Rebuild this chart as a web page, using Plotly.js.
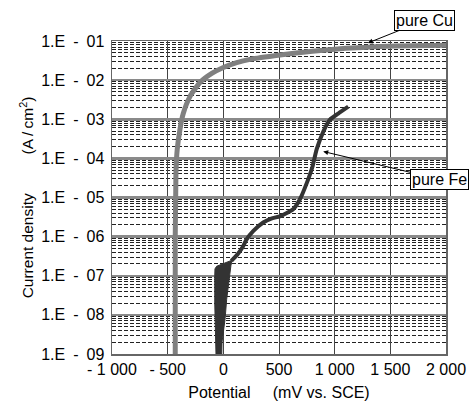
<!DOCTYPE html>
<html>
<head>
<meta charset="utf-8">
<script src="https://cdn.plot.ly/plotly-3.0.1.min.js"></script>
<style>html,body{margin:0;padding:0;background:#fff;}#chart{width:473px;height:404px;}</style>
</head>
<body>
<div id="chart"></div>
<script>
// Pure Cu polarization curve (mV vs SCE, A/cm2)
const cuPotential = [-432, -432, -428, -425, -414, -390, -360, -300, -210, -100, 0, 120, 240, 508, 800, 1100, 1400, 1700, 2000];
const cuCurrent   = [1e-9, 1e-6, 1e-5, 5e-5, 1.7e-4, 5.4e-4, 1.4e-3, 3.8e-3, 8.7e-3, 1.5e-2, 2.1e-2, 2.8e-2, 3.4e-2, 4.4e-2, 5.5e-2, 6.5e-2, 7.2e-2, 7.6e-2, 7.8e-2];

// Pure Fe: noisy band near the corrosion potential (outline)
const feBandPotential = [-66, -70, -75, -77, -77, -75, -60, -30, 10, 50, 78, 68, 56, 42, 30, 16, 2, -12, -14, -66];
const feBandCurrent   = [1e-9, 2e-9, 5e-9, 2e-8, 1e-7, 1.5e-7, 1.75e-7, 1.9e-7, 2.1e-7, 2.3e-7, 2.5e-7, 1.8e-7, 1e-7, 6e-8, 2.5e-8, 8e-9, 4e-9, 2e-9, 1e-9, 1e-9];

// Pure Fe: anodic branch
const fePotential = [72, 130, 178, 209, 270, 358, 430, 508, 570, 627, 688, 762, 800, 838, 900, 958, 1032, 1122];
const feCurrent   = [2.4e-7, 3.6e-7, 5.7e-7, 8.5e-7, 1.4e-6, 2.3e-6, 2.9e-6, 3.3e-6, 4e-6, 5e-6, 9e-6, 2.9e-5, 6e-5, 1.7e-4, 5e-4, 9.8e-4, 1.4e-3, 2.1e-3];

const xTickVals = [-1000, -500, 0, 500, 1000, 1500, 2000];
const xTickText = ['- 1 000', '- 500', '0', '500', '1 000', '1 500', '2 000'];
const yTickVals = [1e-9, 1e-8, 1e-7, 1e-6, 1e-5, 1e-4, 1e-3, 1e-2, 1e-1];
const yTickText = ['1.E\u2002-\u200209', '1.E\u2002-\u200208', '1.E\u2002-\u200207', '1.E\u2002-\u200206', '1.E\u2002-\u200205', '1.E\u2002-\u200204', '1.E\u2002-\u200203', '1.E\u2002-\u200202', '1.E\u2002-\u200201'];

// Label callouts: arrow head point and label centre (potential, current)
const cuLabel = {text: 'pure Cu', head: [1298, 8.9e-2], tail: [1811, 3.4e-1]};
const feLabel = {text: 'pure Fe', head: [897, 1.5e-4], tail: [1946, 2.9e-5]};

const FONT = 'Liberation Sans, Arial, sans-serif';
const NB = '\u00A0';

const traces = [
  {x: cuPotential, y: cuCurrent, type: 'scatter', mode: 'lines',
   line: {color: '#808080', width: 5, shape: 'spline', smoothing: 0.5}, hoverinfo: 'skip'},
  {x: feBandPotential, y: feBandCurrent, type: 'scatter', mode: 'lines', fill: 'toself',
   fillcolor: '#333333', line: {color: '#333333', width: 1}, hoverinfo: 'skip'},
  {x: fePotential, y: feCurrent, type: 'scatter', mode: 'lines',
   line: {color: '#333333', width: 4, shape: 'spline', smoothing: 0.5}, hoverinfo: 'skip'}
];

function callout(c) {
  return {x: c.head[0], y: Math.log10(c.head[1]), xref: 'x', yref: 'y',
    ax: c.tail[0], ay: Math.log10(c.tail[1]), axref: 'x', ayref: 'y',
    text: c.text, showarrow: true, arrowhead: 2, arrowsize: 1, arrowwidth: 1, arrowcolor: '#000',
    xanchor: 'center', yanchor: 'middle',
    bordercolor: '#000', borderwidth: 1, borderpad: 1, bgcolor: '#fff',
    font: {family: FONT, size: 16, color: '#000'}};
}

const layout = {
  width: 473, height: 404,
  margin: {l: 112, r: 27, t: 41, b: 50},
  paper_bgcolor: '#fff', plot_bgcolor: '#fff',
  showlegend: false,
  font: {family: FONT, size: 16, color: '#000'},
  xaxis: {
    range: [-1000, 2000], tickvals: xTickVals, ticktext: xTickText,
    showgrid: true, gridcolor: '#444', gridwidth: 1,
    zeroline: false, showline: true, linecolor: '#666', linewidth: 1.5, mirror: true,
    ticks: '', tickfont: {family: FONT, size: 16},
    title: {text: 'Potential' + NB.repeat(5) + '(mV vs. SCE)', font: {family: FONT, size: 16}, standoff: 10}
  },
  yaxis: {
    type: 'log', range: [-9, -1], tickvals: yTickVals, ticktext: yTickText,
    showgrid: true, gridcolor: '#8a8a8a', gridwidth: 2.5,
    minor: {dtick: 'D1', showgrid: true, gridcolor: '#222', gridwidth: 1, griddash: '4px,2px', ticks: ''},
    zeroline: false, showline: true, linecolor: '#666', linewidth: 1.5, mirror: true,
    ticks: '', tickfont: {family: FONT, size: 16}, ticklabelstandoff: 3,
    title: {text: 'Current density' + NB.repeat(9) + '(A\u2009/\u2009cm<sup>2</sup>)', font: {family: FONT, size: 15.5}, standoff: 3}
  },
  annotations: [callout(cuLabel), callout(feLabel)]
};

Plotly.newPlot('chart', traces, layout, {staticPlot: true, displayModeBar: false});
</script>
</body>
</html>
